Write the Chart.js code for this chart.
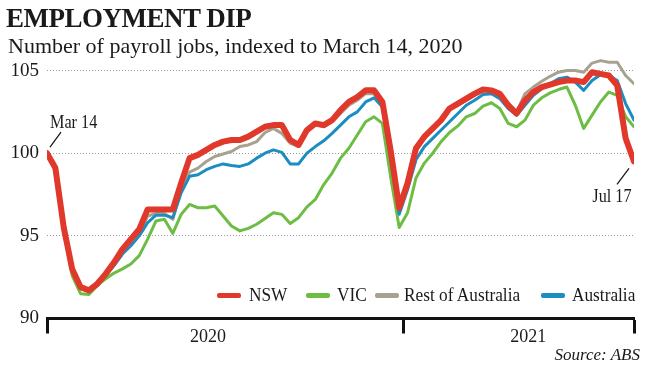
<!DOCTYPE html>
<html>
<head>
<meta charset="utf-8">
<script src="https://cdn.jsdelivr.net/npm/chart.js@4"></script>
<style>
  html, body { margin:0; padding:0; background:#fff; }
  #wrap { position:relative; width:650px; height:366px; overflow:hidden; font-family:"Liberation Serif", serif; color:#1a1a1a; }
  #c { position:absolute; left:0; top:0; }
  .t { position:absolute; white-space:nowrap; line-height:1; }
  #title { left:6px; top:5px; font-size:27px; font-weight:bold; letter-spacing:-0.5px; }
  #sub { left:8px; top:35px; font-size:22px; }
  .lg { position:absolute; top:286px; font-size:18px; line-height:1; white-space:nowrap; transform:scaleX(0.96); transform-origin:left center; }
  .sw { position:absolute; height:5px; top:293px; border-radius:2px; }
  #src { right:10px; top:346px; font-size:17px; font-style:italic; }
  #mar { left:50px; top:113px; font-size:18px; transform:scaleX(0.9); transform-origin:left center; }
  #jul { right:18px; top:187px; font-size:18px; transform:scaleX(0.9); transform-origin:right center; }
</style>
</head>
<body>
<div id="wrap">
  <canvas id="c" width="650" height="366"></canvas>
  <div class="t" id="title">EMPLOYMENT DIP</div>
  <div class="t" id="sub">Number of payroll jobs, indexed to March 14, 2020</div>
  <div class="t" id="mar">Mar 14</div>
  <div class="t" id="jul">Jul 17</div>
  <div id="legend"></div>
  <div class="t" id="src">Source: ABS</div>
</div>
<script>
// Weekly index (week 0 = Mar 14, 2020 ... week 70 = Jul 17, 2021)
const seriesNames = ["NSW", "VIC", "Rest of Australia", "Australia"];
const seriesColors = ["#e0392b", "#6dbd45", "#a7a290", "#1b8dc0"];

const nsw = [100.0,99.1,95.5,93.0,91.9,91.7,92.1,92.7,93.4,94.2,94.8,95.4,96.6,96.6,96.6,96.6,98.2,99.7,99.9,100.2,
  100.5,100.7,100.8,100.8,101.0,101.3,101.6,101.7,101.7,100.8,100.5,101.4,101.8,101.7,102.0,102.6,103.1,103.4,103.8,103.8,
  103.1,100.1,96.7,98.2,100.3,101.0,101.5,102.0,102.7,103.0,103.3,103.6,103.85,103.8,103.6,102.9,102.4,103.2,103.7,104.0,
  104.15,104.3,104.4,104.4,104.3,104.9,104.8,104.7,104.1,100.9,99.5];
const vic = [100.0,99.0,95.3,92.6,91.5,91.45,92.0,92.4,92.75,93.0,93.3,93.8,94.8,95.9,96.0,95.15,96.3,96.9,96.7,96.7,
  96.8,96.2,95.6,95.3,95.45,95.7,96.05,96.4,96.3,95.75,96.1,96.75,97.2,98.1,98.8,99.7,100.3,101.1,101.9,102.2,
  101.8,98.5,95.5,96.4,98.5,99.4,100.0,100.7,101.25,101.65,102.2,102.4,102.85,103.05,102.7,101.8,101.6,102.0,102.9,103.35,
  103.65,103.85,104.0,102.9,101.5,102.3,103.1,103.7,103.5,102.2,101.6];
const rest = [100.0,99.1,95.5,92.9,91.9,91.7,92.0,92.6,93.3,94.1,94.7,95.2,96.2,96.35,96.35,96.0,97.8,98.85,99.1,99.5,
  99.8,99.95,100.1,100.4,100.5,100.7,101.25,101.5,101.2,100.6,100.4,101.3,101.7,101.6,101.9,102.4,102.9,103.2,103.6,103.6,
  103.0,100.0,96.5,98.1,100.1,100.9,101.4,101.9,102.65,102.9,103.2,103.5,103.8,103.85,103.6,103.0,102.5,103.6,104.0,104.35,
  104.65,104.9,105.0,105.0,104.9,105.45,105.6,105.5,105.5,104.7,104.2];
const aus = [100.0,99.1,95.5,92.9,91.9,91.7,92.0,92.6,93.2,93.9,94.4,95.0,95.8,96.25,96.25,96.1,97.6,98.6,98.7,99.0,
  99.2,99.35,99.25,99.2,99.35,99.7,100.0,100.2,100.05,99.35,99.35,100.0,100.4,100.75,101.2,101.7,102.2,102.5,103.1,103.35,
  102.8,99.6,96.3,97.8,99.6,100.4,100.9,101.4,101.9,102.4,102.9,103.2,103.55,103.6,103.3,102.7,102.3,102.9,103.5,103.9,
  104.2,104.5,104.6,104.3,103.8,104.4,104.75,104.7,104.4,103.0,102.0];

const yTicks = [90, 95, 100, 105];
const yearLabels = ["2020", "2021"];
const yearLabelWeeks = [19.2, 57.4];   // where each year label sits (week index)
const yearBoundaryWeeks = [0, 42.5, 70]; // axis tick marks

const allSeries = [nsw, vic, rest, aus];
const widths = [6, 3, 3, 3];
const orders = [0, 3, 2, 1];

const datasets = allSeries.map((arr, k) => ({
  label: seriesNames[k],
  data: arr.map((v, i) => ({x: i, y: v})),
  borderColor: seriesColors[k],
  backgroundColor: seriesColors[k],
  borderWidth: widths[k],
  pointRadius: 0,
  tension: 0,
  borderJoinStyle: 'round',
  borderCapStyle: 'round',
  order: orders[k],
  fill: false
}));

// HTML legend
const legendPos = [[217, 249], [306, 337], [375, 404], [541, 572]];
const lg = document.getElementById('legend');
seriesNames.forEach((n, k) => {
  const sw = document.createElement('div');
  sw.className = 'sw';
  sw.style.left = legendPos[k][0] + 'px';
  sw.style.width = '24px';
  sw.style.background = seriesColors[k];
  lg.appendChild(sw);
  const tx = document.createElement('div');
  tx.className = 'lg';
  tx.style.left = legendPos[k][1] + 'px';
  tx.textContent = n;
  lg.appendChild(tx);
});

const leaderPlugin = {
  id: 'leaders',
  afterDatasetsDraw(chart) {
    const xs = chart.scales.x, ys = chart.scales.y, ctx = chart.ctx;
    const p0x = xs.getPixelForValue(0), p0y = ys.getPixelForValue(nsw[0]);
    const last = nsw.length - 1;
    const p1x = xs.getPixelForValue(last), p1y = ys.getPixelForValue(nsw[last]);
    ctx.save();
    ctx.strokeStyle = '#111';
    ctx.lineWidth = 1.2;
    ctx.beginPath();
    ctx.moveTo(p0x + 3, p0y - 6); ctx.lineTo(p0x + 14, p0y - 21);
    ctx.moveTo(p1x - 5, p1y + 7); ctx.lineTo(p1x - 17, p1y + 23);
    ctx.stroke();
    ctx.restore();
  }
};

const serif = "'Liberation Serif', serif";
new Chart(document.getElementById('c'), {
  type: 'line',
  data: { datasets },
  options: {
    responsive: false,
    animation: false,
    devicePixelRatio: 1,
    layout: { padding: { top: 54, right: 16, left: 0, bottom: 0 } },
    plugins: { legend: { display: false }, tooltip: { enabled: false } },
    scales: {
      x: {
        type: 'linear',
        min: 0, max: nsw.length - 1,
        afterFit(s) { s.height = 47.5; },
        afterBuildTicks(s) {
          const t = [];
          yearBoundaryWeeks.forEach(v => t.push({value: v}));
          yearLabelWeeks.forEach(v => t.push({value: v}));
          t.sort((a, b) => a.value - b.value);
          s.ticks = t;
        },
        ticks: {
          autoSkip: false, maxRotation: 0, padding: -7,
          font: { family: serif, size: 18 }, color: '#1a1a1a',
          callback(v) { const i = yearLabelWeeks.indexOf(v); return i >= 0 ? yearLabels[i] : ''; }
        },
        grid: {
          drawOnChartArea: false, drawTicks: true, tickLength: 15, tickWidth: 3,
          tickColor(ctx) { return (ctx.tick && yearBoundaryWeeks.includes(ctx.tick.value)) ? '#111' : 'rgba(0,0,0,0)'; }
        },
        border: { display: true, color: '#111', width: 3 }
      },
      y: {
        min: 90, max: 106,
        afterFit(s) { s.width = 47; },
        afterBuildTicks(s) { s.ticks = yTicks.map(v => ({value: v})); },
        ticks: {
          padding: 8, font: { family: serif, size: 19 }, color: '#1a1a1a',
          callback(v) { return String(v); }
        },
        grid: {
          drawTicks: false, lineWidth: 1,
          color(ctx) { return (ctx.tick && ctx.tick.value === 90) ? 'rgba(0,0,0,0)' : '#9a9a9a'; }
        },
        border: { display: false, dash: [1, 2] }
      }
    }
  },
  plugins: [leaderPlugin]
});
</script>
</body>
</html>
